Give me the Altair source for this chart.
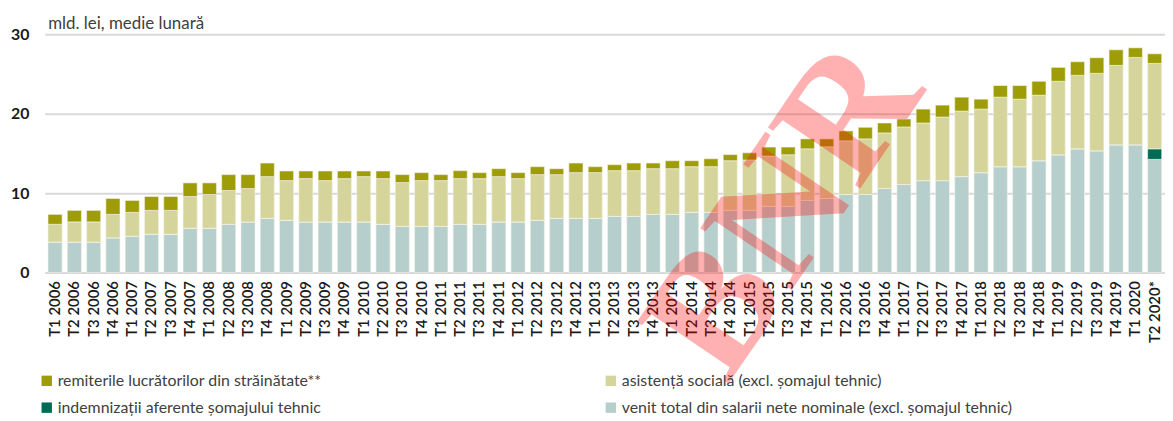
import altair as alt
import pandas as pd

quarters = [
    "T1 2006", "T2 2006", "T3 2006", "T4 2006",
    "T1 2007", "T2 2007", "T3 2007", "T4 2007",
    "T1 2008", "T2 2008", "T3 2008", "T4 2008",
    "T1 2009", "T2 2009", "T3 2009", "T4 2009",
    "T1 2010", "T2 2010", "T3 2010", "T4 2010",
    "T1 2011", "T2 2011", "T3 2011", "T4 2011",
    "T1 2012", "T2 2012", "T3 2012", "T4 2012",
    "T1 2013", "T2 2013", "T3 2013", "T4 2013",
    "T1 2014", "T2 2014", "T3 2014", "T4 2014",
    "T1 2015", "T2 2015", "T3 2015", "T4 2015",
    "T1 2016", "T2 2016", "T3 2016", "T4 2016",
    "T1 2017", "T2 2017", "T3 2017", "T4 2017",
    "T1 2018", "T2 2018", "T3 2018", "T4 2018",
    "T1 2019", "T2 2019", "T3 2019", "T4 2019",
    "T1 2020", "T2 2020*",
]

# venit total din salarii nete nominale (excl. somajul tehnic)
salarii = [
    3.84, 3.84, 3.84, 4.38, 4.58, 4.83, 4.83, 5.58, 5.58, 6.08,
    6.38, 6.83, 6.58, 6.38, 6.38, 6.38, 6.38, 6.08, 5.83, 5.83,
    5.83, 6.08, 6.08, 6.38, 6.38, 6.58, 6.83, 6.83, 6.83, 7.08,
    7.08, 7.33, 7.33, 7.58, 7.58, 7.83, 7.83, 8.33, 8.33, 9.08,
    9.33, 9.83, 9.83, 10.58, 11.08, 11.58, 11.58, 12.08, 12.58, 13.33,
    13.33, 14.08, 14.83, 15.58, 15.33, 16.08, 16.08, 14.25,
]

# indemnizatii aferente somajului tehnic
somaj = [0.0] * 57 + [1.33]

# asistenta sociala (excl. somajul tehnic)
asistenta = [
    2.24, 2.54, 2.54, 2.95, 3.00, 3.00, 3.00, 4.00, 4.25, 4.25,
    4.20, 5.25, 5.00, 5.45, 5.20, 5.45, 5.70, 5.75, 5.50, 5.75,
    5.75, 5.75, 5.75, 5.70, 5.45, 5.75, 5.50, 5.75, 5.75, 5.75,
    5.75, 5.75, 5.75, 5.75, 5.75, 6.25, 6.34, 6.34, 6.50, 6.50,
    6.50, 6.75, 7.00, 7.00, 7.25, 7.25, 8.00, 8.25, 8.00, 8.75,
    8.50, 8.25, 9.25, 9.25, 9.75, 10.00, 11.00, 10.75,
]

# remiterile lucratorilor din strainatate**
remiteri = [
    1.25, 1.45, 1.45, 2.00, 1.50, 1.75, 1.75, 1.71, 1.46, 2.00,
    1.75, 1.71, 1.21, 0.96, 1.21, 0.96, 0.71, 0.96, 1.00, 1.00,
    0.75, 1.00, 0.75, 1.00, 0.75, 1.00, 0.75, 1.21, 0.75, 0.75,
    0.96, 0.71, 1.00, 0.75, 1.00, 0.77, 0.91, 1.13, 0.97, 1.25,
    1.00, 1.25, 1.46, 1.25, 1.00, 1.75, 1.50, 1.75, 1.25, 1.46,
    1.71, 1.75, 1.75, 1.71, 1.96, 1.96, 1.21, 1.21,
]

series_names = [
    "venit total din salarii nete nominale (excl. șomajul tehnic)",
    "indemnizații aferente șomajului tehnic",
    "asistență socială (excl. șomajul tehnic)",
    "remiterile lucrătorilor din străinătate**",
]
series_values = [salarii, somaj, asistenta, remiteri]
series_colors = ["#b6cfcc", "#006b54", "#d5d59b", "#9e9d08"]

# legend fills column by column: left column remiteri / somaj, right column asistenta / salarii
legend_order = [series_names[3], series_names[1], series_names[2], series_names[0]]
legend_colors = [series_colors[3], series_colors[1], series_colors[2], series_colors[0]]

rows = []
for k, (name, vals) in enumerate(zip(series_names, series_values)):
    for q, v in zip(quarters, vals):
        rows.append({"trimestru": q, "serie": name, "valoare": v, "ord": k})
df = pd.DataFrame(rows)

bars = alt.Chart(df).mark_bar(stroke="#f4f4ea", strokeWidth=0.6).encode(
    x=alt.X(
        "trimestru:N",
        sort=quarters,
        title=None,
        scale=alt.Scale(paddingInner=0.27, paddingOuter=0.17),
        axis=alt.Axis(
            labelAngle=-90,
            labelAlign="right",
            labelBaseline="middle",
            labelFont="Lato",
            labelFontSize=15,
            labelFontWeight=600,
            labelColor="#1a1a1a",
            labelPadding=8,
            ticks=False,
            domain=False,
            labelOverlap=False,
        ),
    ),
    y=alt.Y(
        "sum(valoare):Q",
        title="mld. lei, medie lunară",
        scale=alt.Scale(domain=[0, 30]),
        axis=alt.Axis(
            values=[0, 10, 20, 30],
            labelFont="Lato",
            labelFontSize=16,
            labelFontWeight=700,
            labelColor="#1a1a1a",
            labelPadding=16,
            ticks=False,
            domain=False,
            grid=True,
            gridColor="#d9d9d9",
            gridWidth=2,
            titleAngle=0,
            titleAlign="left",
            titleBaseline="alphabetic",
            titleX=3,
            titleY=-6,
            titleFont="Lato",
            titleFontSize=17,
            titleFontWeight="normal",
            titleColor="#404040",
        ),
    ),
    color=alt.Color(
        "serie:N",
        scale=alt.Scale(domain=legend_order, range=legend_colors),
        legend=alt.Legend(
            title=None,
            orient="none",
            legendX=-6,
            legendY=341,
            columns=2,
            columnPadding=283,
            rowPadding=11,
            symbolType="square",
            symbolSize=110,
            symbolStrokeWidth=0,
            labelFont="Lato",
            labelFontSize=16,
            labelColor="#404040",
            labelOffset=3,
            labelLimit=500,
        ),
    ),
    order=alt.Order("ord:Q", sort="ascending"),
)

watermark = alt.Chart(pd.DataFrame({"t": ["BNR"]})).mark_text(
    font="Liberation Serif",
    fontSize=170,
    fontWeight="bold",
    angle=304,
    color="#ff0000",
    opacity=0.3,
    align="center",
    baseline="middle",
).encode(text="t:N", x=alt.value(745), y=alt.value(177))

chart = alt.layer(bars, watermark).properties(
    width=1128,
    height=240,
    autosize=alt.AutoSizeParams(type="none"),
    padding={"left": 37, "top": 25, "right": 0, "bottom": 148},
).configure_view(stroke=None)

chart.save("out.html", embed_options={"renderer": "svg", "actions": False})
